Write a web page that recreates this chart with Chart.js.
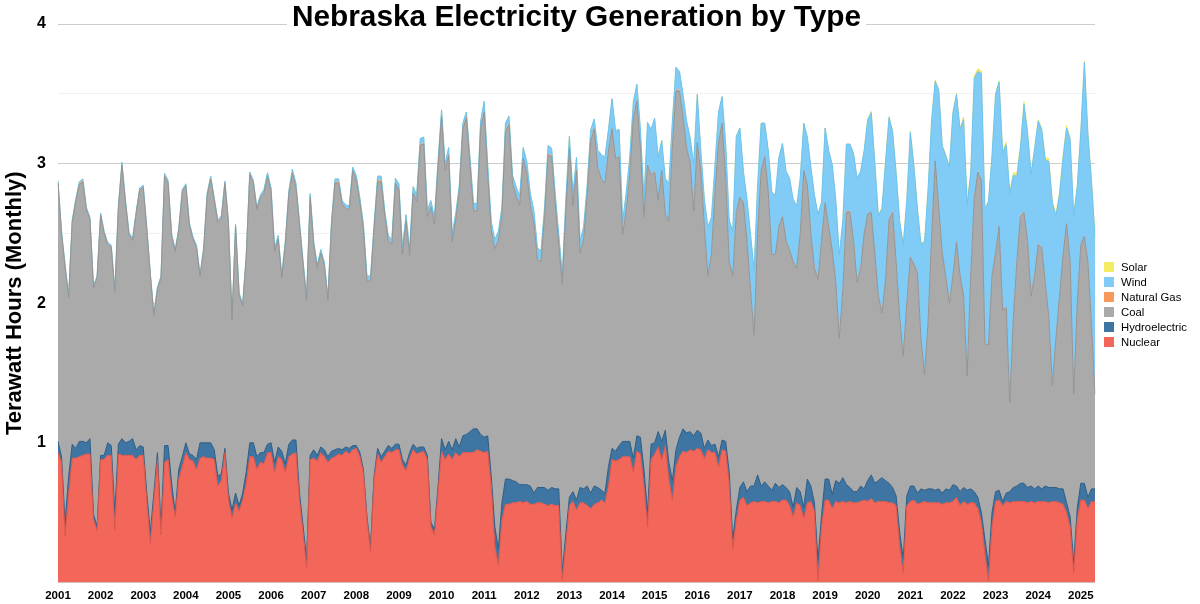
<!DOCTYPE html>
<html><head><meta charset="utf-8">
<script src="https://cdn.jsdelivr.net/npm/chart.js@4.4.1/dist/chart.umd.min.js"></script>
<style>
html,body{margin:0;padding:0;background:#fff}
#wrap{width:1200px;height:604px;position:relative}
#legend{position:absolute;left:1104px;top:259px;font-family:"Liberation Sans",Arial,sans-serif;font-size:11.3px;color:#000}
#legend .row{height:15px;display:flex;align-items:center;white-space:nowrap}
#legend .box{width:10px;height:10px;margin-right:7px;flex:none}
</style>
</head><body><div id="wrap"><canvas id="c" width="1200" height="604"></canvas><div id="legend"></div></div>
<script>
const TITLE = 'Nebraska Electricity Generation by Type';
const Y_TITLE = 'Terawatt Hours (Monthly)';
const years = ['2001','2002','2003','2004','2005','2006','2007','2008','2009','2010','2011','2012','2013','2014','2015','2016','2017','2018','2019','2020','2021','2022','2023','2024','2025'];
const months = ['01','02','03','04','05','06','07','08','09','10','11','12'];
const yTickLabels = ['1','2','3','4'];

// TWh per month, Jan 2001 .. May 2025
const nuclear = [
0.93,0.86,0.33,0.64,0.89,0.89,0.90,0.91,0.92,0.92,0.45,0.37,
0.88,0.88,0.91,0.91,0.38,0.92,0.91,0.91,0.91,0.91,0.88,0.91,
0.91,0.59,0.28,0.59,0.88,0.34,0.86,0.88,0.62,0.47,0.74,0.83,
0.93,0.88,0.87,0.81,0.89,0.90,0.89,0.89,0.88,0.69,0.73,0.93,
0.59,0.46,0.57,0.51,0.59,0.71,0.90,0.90,0.81,0.86,0.85,0.93,
0.93,0.79,0.90,0.88,0.79,0.90,0.92,0.93,0.59,0.36,0.10,0.88,
0.89,0.87,0.93,0.90,0.86,0.89,0.90,0.92,0.91,0.94,0.92,0.95,
0.96,0.90,0.79,0.45,0.22,0.74,0.92,0.86,0.90,0.94,0.93,0.95,
0.95,0.84,0.80,0.89,0.95,0.92,0.93,0.94,0.88,0.40,0.34,0.65,
0.94,0.88,0.92,0.88,0.93,0.90,0.93,0.93,0.93,0.93,0.95,0.94,
0.93,0.94,0.69,0.26,0.12,0.45,0.56,0.56,0.57,0.57,0.58,0.57,
0.58,0.56,0.56,0.57,0.57,0.56,0.55,0.56,0.55,0.55,0.02,0.28,
0.55,0.58,0.52,0.57,0.57,0.55,0.53,0.56,0.57,0.59,0.57,0.69,
0.88,0.87,0.88,0.90,0.90,0.90,0.79,0.94,0.92,0.69,0.40,0.88,
0.92,0.97,0.88,0.98,0.74,0.59,0.83,0.90,0.94,0.93,0.95,0.94,
0.96,0.95,0.89,0.95,0.93,0.93,0.83,0.95,0.94,0.71,0.24,0.45,
0.59,0.61,0.55,0.57,0.58,0.57,0.58,0.58,0.57,0.58,0.58,0.57,
0.59,0.59,0.55,0.47,0.57,0.55,0.46,0.57,0.58,0.51,0.01,0.40,
0.59,0.59,0.53,0.58,0.57,0.58,0.57,0.58,0.57,0.57,0.58,0.59,
0.58,0.60,0.57,0.58,0.58,0.58,0.57,0.57,0.55,0.26,0.07,0.55,
0.58,0.59,0.56,0.57,0.58,0.57,0.57,0.57,0.57,0.56,0.57,0.57,
0.58,0.61,0.55,0.58,0.56,0.57,0.57,0.53,0.43,0.21,0.01,0.40,
0.58,0.59,0.55,0.58,0.57,0.58,0.58,0.58,0.58,0.57,0.58,0.57,
0.58,0.58,0.58,0.57,0.58,0.58,0.57,0.56,0.50,0.40,0.07,0.45,
0.59,0.59,0.53,0.58,0.58
];
const hydro = [
0.08,0.04,0.10,0.12,0.10,0.07,0.11,0.10,0.08,0.11,0.04,0.03,
0.03,0.03,0.09,0.07,0.12,0.07,0.12,0.09,0.10,0.12,0.07,0.07,
0.06,0.05,0.08,0.05,0.05,0.06,0.12,0.10,0.09,0.03,0.07,0.07,
0.07,0.04,0.04,0.07,0.11,0.10,0.11,0.11,0.07,0.07,0.05,0.03,
0.05,0.06,0.07,0.04,0.05,0.08,0.10,0.10,0.09,0.07,0.08,0.06,
0.07,0.07,0.07,0.06,0.06,0.09,0.10,0.09,0.05,0.05,0.06,0.03,
0.06,0.04,0.04,0.05,0.04,0.05,0.05,0.04,0.04,0.03,0.04,0.03,
0.02,0.03,0.02,0.02,0.04,0.02,0.04,0.04,0.04,0.04,0.03,0.04,
0.04,0.04,0.04,0.04,0.04,0.04,0.04,0.03,0.03,0.03,0.04,0.03,
0.09,0.07,0.09,0.07,0.10,0.07,0.12,0.13,0.15,0.17,0.15,0.12,
0.11,0.11,0.07,0.14,0.12,0.12,0.18,0.18,0.16,0.15,0.12,0.13,
0.12,0.13,0.08,0.11,0.11,0.12,0.11,0.12,0.12,0.12,0.06,0.07,
0.06,0.07,0.07,0.11,0.10,0.14,0.11,0.13,0.11,0.07,0.07,0.14,
0.08,0.07,0.10,0.11,0.11,0.11,0.10,0.11,0.12,0.12,0.10,0.11,
0.08,0.11,0.13,0.11,0.12,0.14,0.12,0.14,0.16,0.14,0.13,0.11,
0.13,0.12,0.07,0.07,0.05,0.06,0.07,0.07,0.07,0.08,0.07,0.07,
0.09,0.11,0.10,0.12,0.11,0.20,0.11,0.14,0.12,0.08,0.13,0.11,
0.11,0.09,0.10,0.07,0.11,0.10,0.08,0.17,0.11,0.06,0.15,0.08,
0.15,0.15,0.10,0.15,0.14,0.17,0.13,0.10,0.08,0.08,0.11,0.08,
0.15,0.17,0.14,0.15,0.17,0.15,0.14,0.11,0.07,0.10,0.10,0.07,
0.11,0.10,0.08,0.10,0.08,0.10,0.10,0.09,0.10,0.08,0.10,0.09,
0.12,0.08,0.10,0.10,0.10,0.10,0.08,0.08,0.07,0.10,0.11,0.10,
0.07,0.07,0.03,0.06,0.08,0.10,0.11,0.13,0.13,0.11,0.11,0.10,
0.11,0.09,0.11,0.11,0.10,0.10,0.10,0.11,0.07,0.07,0.07,0.08,
0.12,0.12,0.08,0.09,0.09
];
const coal = [
1.85,1.60,1.83,1.28,1.59,1.77,1.84,1.86,1.67,1.57,1.62,1.78,
1.72,1.59,1.42,1.42,1.58,1.69,1.96,1.72,1.48,1.42,1.69,1.83,
1.86,1.89,1.84,1.27,1.17,1.78,1.93,1.88,1.77,1.87,1.71,1.90,
1.84,1.64,1.55,1.52,1.19,1.38,1.77,1.89,1.79,1.82,1.83,1.90,
1.93,1.36,1.91,1.51,1.34,1.54,1.92,1.86,1.77,1.83,1.86,1.92,
1.80,1.51,1.49,1.24,1.57,1.79,1.91,1.81,1.92,1.87,1.86,1.85,
1.47,1.34,1.39,1.32,1.12,1.62,1.91,1.90,1.76,1.71,1.71,1.97,
1.90,1.79,1.72,1.69,1.90,1.77,1.91,1.97,1.69,1.47,1.46,1.87,
1.82,1.47,1.75,1.41,1.80,1.77,2.16,2.17,1.71,2.26,2.19,2.29,
2.31,2.00,2.05,1.49,1.57,1.83,2.20,2.27,1.92,1.56,1.56,2.19,
2.33,1.87,1.76,1.99,2.21,2.06,2.49,2.54,2.13,2.05,2.00,2.34,
2.23,2.01,1.94,1.63,1.62,1.94,2.40,2.37,2.05,1.75,2.06,2.31,
2.50,2.05,2.36,1.68,1.79,2.08,2.52,2.56,2.29,2.23,2.22,2.26,
2.29,2.10,2.07,1.48,1.66,1.91,2.43,2.40,2.07,1.81,2.49,1.93,
1.94,1.66,1.94,1.55,1.73,2.39,2.57,2.48,2.24,2.04,1.93,1.61,
2.06,1.88,1.59,1.18,1.37,1.81,2.25,2.27,1.89,1.51,1.88,2.13,
2.08,2.00,1.80,1.41,1.08,1.73,2.26,2.33,2.11,1.69,1.64,1.87,
1.92,1.77,1.73,1.76,1.57,1.85,2.41,2.11,1.81,1.68,2.01,1.97,
1.98,1.81,1.75,1.42,1.04,1.35,1.95,1.97,1.80,1.50,1.56,1.83,
1.91,1.88,1.65,1.32,1.18,1.43,1.89,1.97,1.68,1.54,1.45,1.38,
1.64,1.59,1.58,1.08,0.83,1.20,1.81,2.36,2.02,1.72,1.52,1.34,
1.50,1.75,1.55,1.37,0.82,1.53,2.10,2.33,2.38,1.40,1.58,1.70,
1.71,1.89,1.37,1.33,0.64,1.22,1.61,1.91,1.94,1.77,1.36,1.53,
1.73,1.73,1.46,1.22,0.73,1.07,1.38,1.68,2.00,1.83,1.21,1.47,
1.71,1.77,1.69,1.18,0.68
];
const naturalGas = [
0.005,0.005,0.005,0.005,0.005,0.005,0.01,0.01,0.005,0.005,0.005,0.005,
0.005,0.005,0.005,0.005,0.005,0.005,0.01,0.01,0.005,0.005,0.005,0.005,
0.005,0.005,0.005,0.005,0.005,0.005,0.01,0.01,0.005,0.005,0.005,0.005,
0.005,0.005,0.005,0.005,0.005,0.005,0.01,0.01,0.005,0.005,0.005,0.005,
0.005,0.005,0.005,0.005,0.005,0.005,0.01,0.01,0.005,0.005,0.005,0.005,
0.005,0.005,0.005,0.005,0.005,0.005,0.01,0.01,0.005,0.005,0.005,0.005,
0.005,0.005,0.005,0.005,0.005,0.005,0.01,0.01,0.005,0.005,0.005,0.005,
0.005,0.005,0.005,0.005,0.005,0.005,0.01,0.01,0.005,0.005,0.005,0.005,
0.005,0.005,0.005,0.005,0.005,0.005,0.01,0.01,0.005,0.005,0.005,0.005,
0.005,0.005,0.005,0.005,0.005,0.005,0.01,0.01,0.005,0.005,0.005,0.005,
0.005,0.005,0.005,0.005,0.005,0.005,0.01,0.01,0.005,0.005,0.005,0.005,
0.005,0.005,0.005,0.005,0.005,0.005,0.01,0.01,0.005,0.005,0.005,0.005,
0.005,0.005,0.005,0.005,0.005,0.005,0.01,0.01,0.005,0.005,0.005,0.005,
0.005,0.005,0.005,0.005,0.005,0.005,0.01,0.01,0.005,0.005,0.005,0.005,
0.005,0.005,0.005,0.005,0.005,0.005,0.01,0.01,0.005,0.005,0.005,0.005,
0.005,0.005,0.005,0.005,0.005,0.005,0.01,0.01,0.005,0.005,0.005,0.005,
0.005,0.005,0.005,0.005,0.005,0.005,0.01,0.01,0.005,0.005,0.005,0.005,
0.005,0.005,0.005,0.005,0.005,0.005,0.01,0.01,0.005,0.005,0.005,0.005,
0.005,0.005,0.005,0.005,0.005,0.005,0.01,0.01,0.005,0.005,0.005,0.005,
0.005,0.005,0.005,0.005,0.005,0.005,0.01,0.01,0.005,0.005,0.005,0.005,
0.005,0.005,0.005,0.005,0.005,0.005,0.01,0.01,0.005,0.005,0.005,0.005,
0.005,0.005,0.005,0.005,0.005,0.005,0.01,0.01,0.005,0.005,0.005,0.005,
0.005,0.005,0.005,0.005,0.005,0.005,0.01,0.01,0.005,0.005,0.005,0.005,
0.005,0.005,0.005,0.005,0.005,0.005,0.01,0.01,0.005,0.005,0.005,0.005,
0.005,0.005,0.005,0.005,0.005
];
const wind = [
0.01,0.01,0.01,0.01,0.01,0.01,0.01,0.01,0.01,0.01,0.01,0.01,
0.01,0.01,0.01,0.01,0.01,0.01,0.01,0.01,0.01,0.01,0.01,0.01,
0.01,0.01,0.01,0.01,0.01,0.01,0.01,0.01,0.01,0.01,0.01,0.01,
0.01,0.01,0.01,0.01,0.01,0.01,0.01,0.01,0.01,0.01,0.01,0.01,
0.01,0.01,0.01,0.01,0.01,0.01,0.01,0.01,0.01,0.01,0.02,0.02,
0.02,0.02,0.02,0.02,0.02,0.02,0.02,0.02,0.02,0.02,0.02,0.02,
0.02,0.02,0.02,0.02,0.02,0.02,0.02,0.02,0.02,0.02,0.02,0.02,
0.03,0.03,0.03,0.03,0.03,0.03,0.03,0.03,0.03,0.03,0.03,0.03,
0.04,0.04,0.04,0.04,0.04,0.04,0.04,0.04,0.04,0.04,0.04,0.04,
0.04,0.04,0.05,0.05,0.04,0.04,0.03,0.03,0.04,0.05,0.05,0.05,
0.07,0.07,0.06,0.06,0.06,0.05,0.05,0.05,0.05,0.06,0.06,0.07,
0.08,0.08,0.08,0.08,0.07,0.06,0.06,0.05,0.06,0.07,0.06,0.08,
0.08,0.08,0.09,0.08,0.08,0.07,0.07,0.06,0.12,0.17,0.18,0.15,
0.21,0.19,0.19,0.09,0.12,0.12,0.11,0.11,0.13,0.12,0.30,0.32,
0.38,0.30,0.21,0.25,0.26,0.18,0.16,0.13,0.15,0.19,0.17,0.33,
0.34,0.14,0.19,0.34,0.26,0.19,0.21,0.18,0.24,0.29,0.32,0.54,
0.49,0.22,0.29,0.39,0.46,0.34,0.33,0.23,0.29,0.44,0.42,0.49,
0.52,0.49,0.51,0.44,0.44,0.39,0.33,0.33,0.47,0.52,0.46,0.27,
0.53,0.54,0.61,0.59,0.59,0.49,0.48,0.48,0.62,0.74,0.69,0.59,
0.67,0.71,0.64,0.57,0.74,0.84,0.72,0.57,0.63,0.68,0.79,0.73,
0.89,0.70,0.45,0.67,0.94,0.94,0.82,0.56,0.83,0.76,0.86,0.97,
1.16,1.05,1.04,1.26,1.22,0.72,0.85,0.71,0.76,0.96,1.02,0.85,
1.13,1.03,1.12,1.16,1.49,1.01,0.60,0.48,0.77,0.77,0.87,0.90,
0.88,0.84,0.87,1.11,1.30,0.87,0.72,0.68,0.68,0.87,1.27,0.83,
0.80,1.24,0.91,1.02,1.12
];
const solar = [
0,0,0,0,0,0,0,0,0,0,0,0,
0,0,0,0,0,0,0,0,0,0,0,0,
0,0,0,0,0,0,0,0,0,0,0,0,
0,0,0,0,0,0,0,0,0,0,0,0,
0,0,0,0,0,0,0,0,0,0,0,0,
0,0,0,0,0,0,0,0,0,0,0,0,
0,0,0,0,0,0,0,0,0,0,0,0,
0,0,0,0,0,0,0,0,0,0,0,0,
0,0,0,0,0,0,0,0,0,0,0,0,
0,0,0,0,0,0,0,0,0,0,0,0,
0,0,0,0,0,0,0,0,0,0,0,0,
0,0,0,0,0,0,0,0,0,0,0,0,
0,0,0,0,0,0,0,0,0,0,0,0,
0,0,0,0,0,0,0,0,0,0,0,0,
0,0,0,0,0,0,0,0,0,0,0,0,
0,0,0,0,0,0,0,0,0,0,0,0,
0,0,0,0,0,0,0,0,0,0,0,0,
0,0,0,0,0,0,0,0,0,0,0,0,
0,0,0,0,0,0,0,0,0,0,0,0,
0.01,0.01,0.01,0.01,0.01,0.01,0.01,0.01,0.01,0.01,0.01,0.01,
0.01,0.01,0.01,0.01,0.01,0.01,0.01,0.01,0.01,0.01,0.01,0.01,
0.01,0.01,0.01,0.02,0.02,0.02,0.02,0.02,0.02,0.01,0.01,0.01,
0.01,0.01,0.02,0.02,0.02,0.02,0.02,0.02,0.02,0.01,0.01,0.01,
0.01,0.01,0.02,0.02,0.02,0.02,0.02,0.02,0.02,0.01,0.01,0.01,
0.01,0.01,0.02,0.02,0.02
];

const labels = [];
years.forEach(y => months.forEach(m => { if (labels.length < nuclear.length) labels.push(y + '-' + m); }));

function ds(label, data, fill, border, bw, isFirst) {
  return { label, data, backgroundColor: fill, borderColor: border, borderWidth: bw,
    fill: isFirst ? 'origin' : '-1', pointRadius: 0, pointHoverRadius: 0, tension: 0 };
}

const datasets = [
  ds('Nuclear', nuclear, '#F3665A', '#D9564B', 1, true),
  ds('Hydroelectric', hydro, '#3E75A2', '#2E5C84', 1, false),
  ds('Coal', coal, '#AAAAAA', '#949494', 1, false),
  ds('Natural Gas', naturalGas, '#F6995A', '#F6995A', 0, false),
  ds('Wind', wind, '#80CCF6', '#6CC3F3', 1, false),
  ds('Solar', solar, '#F6EC62', '#EEE04C', 0.6, false)
];

// HTML legend (top item = last dataset)
const legendEl = document.getElementById('legend');
datasets.slice().reverse().forEach(d => {
  const row = document.createElement('div'); row.className = 'row';
  const box = document.createElement('span'); box.className = 'box'; box.style.background = d.backgroundColor;
  const txt = document.createElement('span'); txt.textContent = d.label;
  row.appendChild(box); row.appendChild(txt); legendEl.appendChild(row);
});

const titlePlugin = {
  id: 'customTitle',
  afterDraw(chart) {
    const ctx = chart.ctx, ca = chart.chartArea;
    ctx.save();
    ctx.font = 'bold 29.8px "Liberation Sans", Arial, Helvetica, sans-serif';
    const w = ctx.measureText(TITLE).width;
    const cx = (ca.left + ca.right) / 2;
    ctx.fillStyle = '#ffffff';
    ctx.fillRect(cx - w / 2 - 5, 0, w + 10, 34);
    ctx.fillStyle = '#000000';
    ctx.textAlign = 'center';
    ctx.textBaseline = 'alphabetic';
    ctx.fillText(TITLE, cx, 26);
    ctx.restore();
  }
};

new Chart(document.getElementById('c'), {
  type: 'line',
  data: { labels, datasets },
  options: {
    responsive: false,
    animation: false,
    events: [],
    layout: { padding: { left: 0, right: 105, top: 24, bottom: 0 } },
    plugins: {
      title: { display: false },
      tooltip: { enabled: false },
      legend: { display: false }
    },
    scales: {
      x: {
        grid: { display: false, drawTicks: false }, border: { display: false },
        afterFit: s => { s.height = 21; },
        ticks: {
          autoSkip: false, maxRotation: 0, minRotation: 0, padding: 7, color: '#000',
          font: { family: '"Liberation Sans", Arial, sans-serif', size: 11.5, weight: 'bold' },
          callback: (v, i) => (i % 12 === 0 ? years[i / 12] : null)
        }
      },
      y: {
        stacked: true, min: 0, max: 4, z: 1,
        border: { display: false },
        afterFit: s => { s.width = 58; },
        grid: {
          drawTicks: false,
          color: ctx => (ctx.tick && Number.isInteger(ctx.tick.value)) ? 'rgba(0,0,0,0.2)' : 'rgba(0,0,0,0.06)'
        },
        ticks: {
          stepSize: 0.5, padding: 12, color: '#000',
          font: { family: '"Liberation Sans", Arial, sans-serif', size: 16, weight: 'bold' },
          callback: v => (v > 0 && Number.isInteger(v) ? yTickLabels[v - 1] : '')
        },
        title: {
          display: true, text: Y_TITLE, color: '#000', padding: { top: 2, bottom: 4 },
          font: { family: '"Liberation Sans", Arial, sans-serif', size: 22, weight: 'bold' }
        }
      }
    }
  },
  plugins: [titlePlugin]
});
</script>
</body></html>
